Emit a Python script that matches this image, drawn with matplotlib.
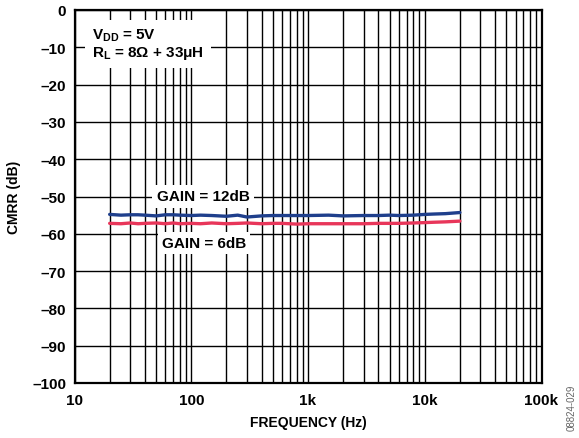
import matplotlib
matplotlib.use("Agg")
import matplotlib.pyplot as plt
from matplotlib.ticker import FixedLocator, LogLocator, NullFormatter

plt.rcParams['font.family'] = ['Liberation Sans', 'DejaVu Sans']
plt.rcParams['mathtext.fontset'] = 'custom'
plt.rcParams['mathtext.rm'] = 'Liberation Sans:bold'
plt.rcParams['mathtext.bf'] = 'Liberation Sans:bold'
plt.rcParams['mathtext.it'] = 'Liberation Sans:bold'

freq = [20, 25, 30, 35, 40, 50, 60, 70, 80, 100, 120, 150, 200, 250, 300, 400,
        500, 600, 800, 1000, 1500, 2000, 3000, 4000, 5000, 6000, 8000, 10000,
        12000, 15000, 20000]
gain12 = [-54.8, -55.0, -54.9, -54.9, -55.0, -55.2, -54.9, -54.9, -55.0, -55.1,
          -55.0, -55.1, -55.3, -55.0, -55.5, -55.2, -55.1, -55.1, -55.1, -55.1,
          -55.0, -55.2, -55.1, -55.1, -55.0, -55.1, -55.0, -54.8, -54.7, -54.6,
          -54.3]
gain6 = [-57.2, -57.3, -57.1, -57.3, -57.2, -57.1, -57.3, -57.1, -57.3, -57.2,
         -57.3, -57.1, -57.3, -57.2, -57.1, -57.3, -57.2, -57.2, -57.4, -57.3,
         -57.3, -57.3, -57.3, -57.2, -57.2, -57.2, -57.1, -57.0, -56.9, -56.8,
         -56.6]

xticks = [10, 100, 1000, 10000, 100000]
xticklabels = ['10', '100', '1k', '10k', '100k']
yticks = list(range(-100, 1, 10))
yticklabels = [('\u2013' + str(-v)) if v < 0 else str(v) for v in yticks]

W, H = 579, 439
fig = plt.figure(figsize=(W/100, H/100), dpi=100)
L, R, T, B = 74.5, 541.5, 11, 384
ax = fig.add_axes([L/W, 1 - B/H, (R-L)/W, (B-T)/H])

ax.plot(freq, gain12, color='#1f3f8c', lw=2.4, zorder=3, solid_capstyle='round')
ax.plot(freq, gain6, color='#e8365a', lw=2.4, zorder=3, solid_capstyle='round')

ax.set_xscale('log')
ax.set_xlim(10, 100000)
ax.set_ylim(-100, 0)
ax.xaxis.set_major_locator(FixedLocator(xticks))
ax.xaxis.set_minor_locator(LogLocator(base=10, subs=range(2, 10), numticks=50))
ax.xaxis.set_minor_formatter(NullFormatter())
ax.set_xticks(xticks)
ax.set_xticklabels(xticklabels)
ax.set_yticks(yticks)
ax.set_yticklabels(yticklabels)
ax.grid(True, which='major', color='black', lw=1.0)
ax.grid(True, which='minor', axis='x', color='black', lw=1.0)
ax.tick_params(which='both', length=0, labelsize=11)
ax.tick_params(axis='y', pad=6)
ax.tick_params(axis='x', pad=7)
for lab in ax.get_xticklabels() + ax.get_yticklabels():
    lab.set_fontweight('bold')
for s in ax.spines.values():
    s.set_linewidth(1.6)

ax.set_xlabel('FREQUENCY (Hz)', fontsize=10, fontweight='bold', labelpad=6)
ax.set_ylabel('CMRR (dB)', fontsize=10, fontweight='bold', labelpad=8)

box = dict(facecolor='white', edgecolor='none', pad=3)
ax.text(14.1, -4.4, '$\\mathbf{V}_{\\mathbf{DD}}$ = 5V\n$\\mathbf{R}_{\\mathbf{L}}$ = 8\u03a9 + 33\u03bcH',
        fontsize=11, fontweight='bold', va='top',
        ha='left', bbox=dict(facecolor='white', edgecolor='none', pad=5),
        linespacing=1.1, zorder=4)
ax.text(126, -50, 'GAIN = 12dB', fontsize=11, fontweight='bold',
        ha='center', va='center', bbox=box, zorder=4)
ax.text(128, -62.5, 'GAIN = 6dB', fontsize=11, fontweight='bold',
        ha='center', va='center', bbox=box, zorder=4)

fig.text(572/W, 1 - 408/H, '08824-029', rotation=90, fontsize=7,
         color='#666666', ha='center', va='center')

fig.savefig('out.png', dpi=100)
